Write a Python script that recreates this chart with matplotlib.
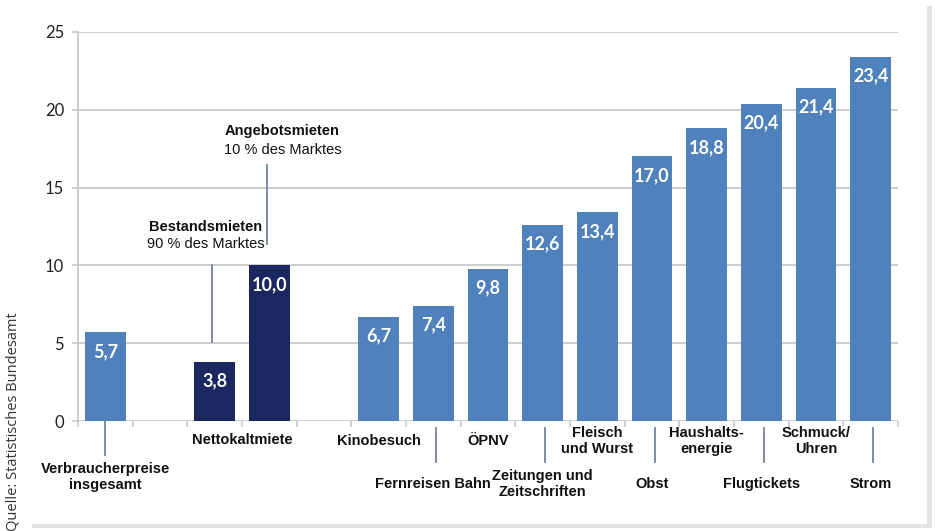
import matplotlib
matplotlib.use("Agg")
import matplotlib.pyplot as plt
from matplotlib.patches import Rectangle

# ---- data ----
overall_label = "Verbraucherpreise\ninsgesamt"
overall_value = 5.7
rent_label = "Nettokaltmiete"
rent_series = ["Bestandsmieten", "Angebotsmieten"]
rent_share = ["90 % des Marktes", "10 % des Marktes"]
rent_values = [3.8, 10.0]
goods_labels = ["Kinobesuch", "Fernreisen Bahn", "ÖPNV", "Zeitungen und\nZeitschriften",
                "Fleisch\nund Wurst", "Obst", "Haushalts-\nenergie", "Flugtickets",
                "Schmuck/\nUhren", "Strom"]
goods_values = [6.7, 7.4, 9.8, 12.6, 13.4, 17.0, 18.8, 20.4, 21.4, 23.4]
yticks = [0, 5, 10, 15, 20, 25]
source = "Quelle: Statistisches Bundesamt"

# ---- layout ----
light = "#4F81BD"
dark = "#1B2761"
grid_c = "#C9C9C9"
conn_c = "#7183A6"
W, H = 935, 531
fig = plt.figure(figsize=(W / 100, H / 100), dpi=100)
fig.patch.set_facecolor("white")

# panel shadow
fig.patches.append(Rectangle((32 / W, 1 - 528 / H), 900 / W, 522 / H, transform=fig.transFigure,
                             facecolor="#E4E4E4", edgecolor="none", zorder=-2))
fig.patches.append(Rectangle((30 / W, 1 - 524 / H), 897 / W, 519 / H, transform=fig.transFigure,
                             facecolor="white", edgecolor="none", zorder=-1))

ax = fig.add_axes([78 / W, 1 - 421 / H, 820 / W, 389 / H])
ax.set_zorder(2)
ax.set_facecolor("none")
ax.set_xlim(-0.5, 14.5)
ax.set_ylim(0, 25)

bw = 0.74
overall_slot = 0
rent_slots = [2, 3]
goods_slots = list(range(5, 15))

bars = []
bars += list(ax.bar([overall_slot], [overall_value], width=bw, color=light, zorder=3))
bars += list(ax.bar(rent_slots, rent_values, width=bw, color=dark, zorder=3))
bars += list(ax.bar(goods_slots, goods_values, width=bw, color=light, zorder=3))

for b in bars:
    v = b.get_height()
    ax.annotate(f"{v:.1f}".replace(".", ","), (b.get_x() + b.get_width() / 2, v),
                xytext=(0, -19), textcoords="offset pixels",
                ha="center", va="center", color="white", fontsize=13,
                fontweight="bold", family="Lato", zorder=4)

# grid and axes
ax.set_yticks(yticks)
ax.set_yticklabels([str(t) for t in yticks], family="Lato", fontsize=12, color="#222222")
ax.yaxis.grid(True, color=grid_c, linewidth=1.3, zorder=0)
ax.set_axisbelow(True)
for s in ["top", "right", "bottom"]:
    ax.spines[s].set_visible(False)
ax.spines["left"].set_color(grid_c)
ax.spines["left"].set_linewidth(1.3)
ax.tick_params(axis="y", length=4, color=grid_c, width=1.2, pad=6)
ax.set_xticks([i - 0.5 for i in range(16)])
ax.set_xticklabels([])
ax.tick_params(axis="x", length=4, color=grid_c, width=1.2, direction="out")

# category labels
lab_kw = dict(ha="center", family="Liberation Sans", fontweight="bold", fontsize=10.5,
              color="#111111", transform=ax.get_xaxis_transform(), clip_on=False,
              linespacing=1.15)
def ypix(p):  # pixel row -> axes fraction
    return (421 - p) / 389

ax.text(overall_slot, ypix(477), overall_label, va="center", **lab_kw)
ax.plot([overall_slot, overall_slot], [ypix(421), ypix(455)], color=conn_c, lw=1.3,
        transform=ax.get_xaxis_transform(), clip_on=False)
ax.text(sum(rent_slots) / 2, ypix(440), rent_label, va="center", **lab_kw)

for i, (lab, s) in enumerate(zip(goods_labels, goods_slots)):
    if i % 2 == 0:
        ax.text(s, ypix(441), lab, va="center", **lab_kw)
    else:
        ax.text(s, ypix(484), lab, va="center", **lab_kw)
        ax.plot([s + 0.05, s + 0.05], [ypix(428), ypix(462)], color=conn_c, lw=1.3,
                transform=ax.get_xaxis_transform(), clip_on=False)

# rent annotations
ax.plot([rent_slots[0] - 0.04] * 2, [5.08, 10.0], color=conn_c, lw=1.3, zorder=2)
ax.plot([rent_slots[1] - 0.04] * 2, [11.4, 16.45], color=conn_c, lw=1.3, zorder=2)
ax.text(rent_slots[0] - 0.17, 12.45, rent_series[0], ha="center", va="center", fontsize=10.5,
        fontweight="bold", family="Liberation Sans", color="#111111")
ax.text(rent_slots[0] - 0.17, 11.35, rent_share[0], ha="center", va="center", fontsize=10.5,
        family="Liberation Sans", color="#111111")
ax.text(rent_slots[1] + 0.24, 18.62, rent_series[1], ha="center", va="center", fontsize=10.5,
        fontweight="bold", family="Liberation Sans", color="#111111")
ax.text(rent_slots[1] + 0.24, 17.42, rent_share[1], ha="center", va="center", fontsize=10.5,
        family="Liberation Sans", color="#111111")

fig.text(13 / W, 1 - 422 / H, source, rotation=90, ha="center", va="center",
         family="Open Sans", fontsize=10.5, color="#333333")

fig.savefig("out.png", dpi=100, facecolor="white")
